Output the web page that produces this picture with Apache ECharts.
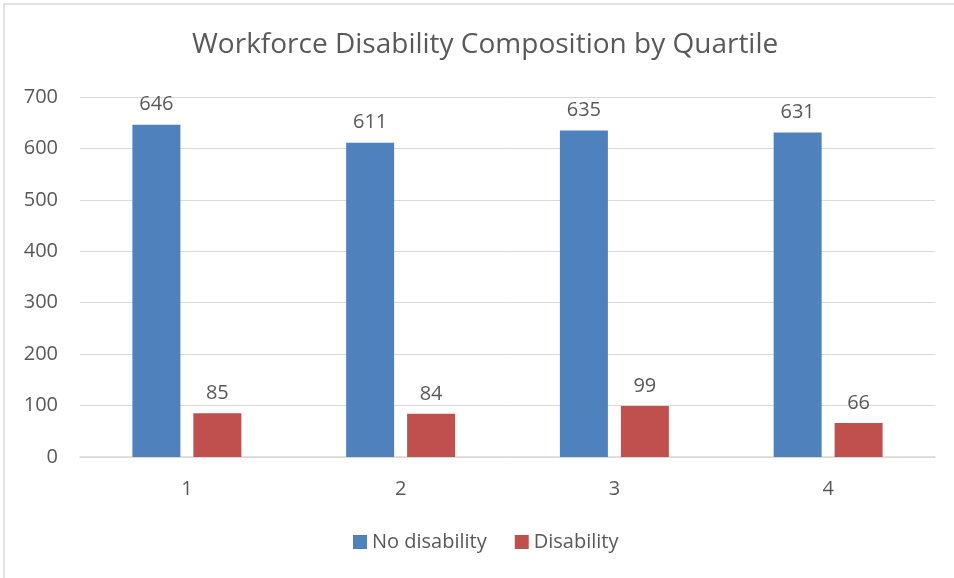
<!DOCTYPE html>
<html>
<head>
<meta charset="utf-8">
<script src="https://cdn.jsdelivr.net/npm/echarts@6/dist/echarts.min.js"></script>
<style>
  html, body { margin: 0; padding: 0; background: #fff; }
  #chart { width: 954px; height: 578px; }
</style>
</head>
<body>
<div id="chart"></div>
<script>
  const quartiles = ['1', '2', '3', '4']
  const noDisability = [646, 611, 635, 631]
  const disability = [85, 84, 99, 66]

  const textColor = '#595959'
  const font = 'Open Sans, Noto Sans, sans-serif'

  const chart = echarts.init(document.getElementById('chart'))

  const barLabel = {
    show: true,
    position: 'top',
    distance: 10,
    color: textColor,
    fontSize: 20,
    fontFamily: font
  }

  chart.setOption({
    animation: false,
    // 外框（截图只露出上边和左边）
    graphic: [{
      type: 'rect',
      shape: { x: 4, y: 4, width: 1000, height: 700 },
      style: { fill: 'none', stroke: '#d9d9d9', lineWidth: 1.5 },
      silent: true
    }],
    title: {
      text: 'Workforce Disability Composition by Quartile',
      left: 187,
      top: 26,
      textStyle: { color: textColor, fontSize: 28, fontWeight: 'normal', fontFamily: font }
    },
    legend: {
      bottom: 21,
      left: 348,
      icon: 'rect',
      itemWidth: 14,
      itemHeight: 14,
      itemGap: 28,
      textStyle: { color: textColor, fontSize: 20, fontFamily: font }
    },
    grid: { left: 80, right: 19, top: 97, bottom: 121 },
    xAxis: {
      type: 'category',
      data: quartiles,
      axisLine: { lineStyle: { color: '#d9d9d9', width: 1.5 } },
      axisTick: { show: false },
      axisLabel: { color: textColor, fontSize: 20, margin: 22, fontFamily: font }
    },
    yAxis: {
      type: 'value',
      min: 0,
      max: 700,
      interval: 100,
      axisLine: { show: false },
      axisTick: { show: false },
      splitLine: { lineStyle: { color: '#d9d9d9', width: 1 } },
      axisLabel: { color: textColor, fontSize: 20, margin: 22, fontFamily: font }
    },
    series: [
      {
        name: 'No disability',
        type: 'bar',
        data: noDisability,
        barWidth: 48,
        barGap: '27%',
        itemStyle: { color: '#4F81BD' },
        label: barLabel
      },
      {
        name: 'Disability',
        type: 'bar',
        data: disability,
        barWidth: 48,
        itemStyle: { color: '#C0504D' },
        label: barLabel
      }
    ]
  })
</script>
</body>
</html>
